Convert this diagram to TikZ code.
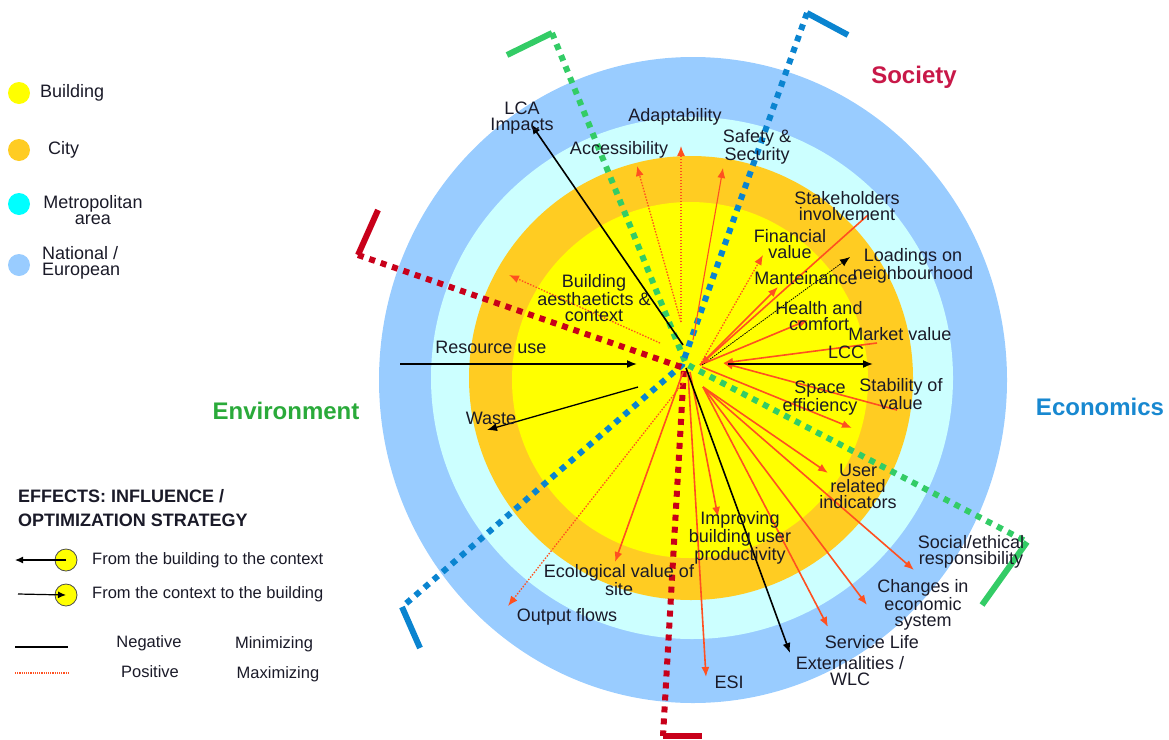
\documentclass[tikz,border=0pt]{standalone}
\usepackage{fontspec}
\setmainfont{Liberation Sans}
\usetikzlibrary{arrows.meta}
\definecolor{natc}{HTML}{99CCFF}
\definecolor{metc}{HTML}{CCFFFF}
\definecolor{cityc}{HTML}{FFCC22}
\definecolor{bldc}{HTML}{FFFF00}
\definecolor{metleg}{HTML}{00FFFF}
\definecolor{arrc}{HTML}{FF5020}
\definecolor{grc}{HTML}{33CC66}
\definecolor{blc}{HTML}{0A84D0}
\definecolor{rdc}{HTML}{C8001A}
\definecolor{socc}{HTML}{C81848}
\definecolor{envc}{HTML}{2AAA3A}
\definecolor{ecoc}{HTML}{1888D0}
\definecolor{txtc}{HTML}{1A1A28}
\begin{document}
\begin{tikzpicture}[x=1pt,y=-1pt,
  lbl/.style={font=\fontsize{18}{16}\selectfont, text=txtc, align=center, inner sep=0pt},
  sect/.style={font=\fontsize{24}{26}\selectfont\bfseries, inner sep=0pt},
  legt/.style={font=\fontsize{16.5}{18}\selectfont, text=txtc, inner sep=0pt},
  legc/.style={circle, inner sep=0pt, minimum size=22pt},
  sdash/.style={line width=6pt, dash pattern=on 6pt off 6pt},
  send/.style={line width=6pt},
  tip/.style={-{Latex[length=10pt,width=8pt]}},
  posarr/.style={draw=arrc, line width=1.6pt, tip},
  thinarr/.style={draw=arrc, line width=1.1pt, tip},
  dotarr/.style={draw=arrc, line width=1.3pt, dash pattern=on 1.5pt off 1.5pt, tip},
  negarr/.style={draw=black, line width=1.6pt, tip},
]
\useasboundingbox (0,0) rectangle (1169,739);
% rings
\fill[natc] (693,380) ellipse [x radius=314, y radius=323];
\fill[metc] (692,378) circle [radius=261];
\fill[cityc] (691,378) circle [radius=222];
\fill[bldc] (690,380) circle [radius=178];

% sector brackets
\coordinate (gA) at (507,55); \coordinate (gB) at (552,33); \coordinate (gV) at (686,364);
\coordinate (gC) at (1027,542); \coordinate (gD) at (982,605);
\coordinate (bA) at (848,35); \coordinate (bB) at (807,13); \coordinate (bV) at (682,365);
\coordinate (bC) at (402,607); \coordinate (bD) at (420,648);
\coordinate (rA) at (378,210); \coordinate (rB) at (358,255); \coordinate (rV) at (684,368);
\coordinate (rC) at (663,736); \coordinate (rD) at (702,736);
\draw[grc, send] (gA) -- (gB); \draw[grc, sdash] (gB) -- (gV) -- (gC); \draw[grc, send] (gC) -- (gD);
\draw[blc, send] (bA) -- (bB); \draw[blc, sdash] (bB) -- (bV) -- (bC); \draw[blc, send] (bC) -- (bD);
\draw[rdc, send] (rA) -- (rB); \draw[rdc, sdash] (rB) -- (rV) -- (rC); \draw[rdc, send] (rC) -- (rD);

% arrow end points
\coordinate (lcaS) at (683,345); \coordinate (lcaE) at (531,124);
\coordinate (accS) at (681,322); \coordinate (accE) at (637,166);
\coordinate (adaS) at (681,322); \coordinate (adaE) at (681,146);
\coordinate (safS) at (693,340); \coordinate (safE) at (723,168);
\coordinate (aesS) at (660,343); \coordinate (aesE) at (509,275);
\coordinate (resS) at (400,364); \coordinate (resE) at (637,364);
\coordinate (wasS) at (638,387); \coordinate (wasE) at (487,430);
\coordinate (outS) at (683,383); \coordinate (outE) at (508,606);
\coordinate (ecoS) at (683,372); \coordinate (ecoE) at (615,562);
\coordinate (esiS) at (688,372); \coordinate (esiE) at (706,677);
\coordinate (impS) at (690,372); \coordinate (impE) at (718,517);
\coordinate (extS) at (686,368); \coordinate (extE) at (790,653);
\coordinate (serS) at (703,387); \coordinate (serE) at (828,627);
\coordinate (chaS) at (703,387); \coordinate (chaE) at (867,605);
\coordinate (socS) at (703,387); \coordinate (socE) at (914,570);
\coordinate (useS) at (703,387); \coordinate (useE) at (828,473);
\coordinate (spaS) at (702,367); \coordinate (spaE) at (852,428);
\coordinate (stbS) at (897,410); \coordinate (stbE) at (723,363);
\coordinate (mktS) at (877,343); \coordinate (mktE) at (723,363);
\coordinate (lccS) at (728,364); \coordinate (lccE) at (873,364);
\coordinate (heaS) at (700,365); \coordinate (heaE) at (808,320);
\coordinate (loaS) at (702,365); \coordinate (loaE) at (850,257);
\coordinate (manS) at (700,365); \coordinate (manE) at (778,287);
\coordinate (finS) at (700,365); \coordinate (finE) at (763,255);
\coordinate (stkS) at (868,215); \coordinate (stkE) at (700,365);

% arrows
\draw[negarr] (lcaS) -- (lcaE);
\draw[dotarr] (accS) -- (accE);
\draw[dotarr] (adaS) -- (adaE);
\draw[thinarr] (safS) -- (safE);
\draw[dotarr] (aesS) -- (aesE);
\draw[negarr] (resS) -- (resE);
\draw[negarr, line width=1.3pt] (wasS) -- (wasE);
\draw[dotarr] (outS) -- (outE);
\draw[posarr] (ecoS) -- (ecoE);
\draw[posarr] (esiS) -- (esiE);
\draw[posarr] (impS) -- (impE);
\draw[negarr] (extS) -- (extE);
\draw[posarr] (serS) -- (serE);
\draw[posarr] (chaS) -- (chaE);
\draw[posarr] (socS) -- (socE);
\draw[posarr] (useS) -- (useE);
\draw[posarr] (spaS) -- (spaE);
\draw[posarr] (stbS) -- (stbE);
\draw[posarr] (mktS) -- (mktE);
\draw[negarr] (lccS) -- (lccE);
\draw[posarr] (heaS) -- (heaE);
\draw[draw=black, line width=0.8pt, dash pattern=on 1.5pt off 1pt, tip] (loaS) -- (loaE);
\draw[posarr] (manS) -- (manE);
\draw[dotarr] (finS) -- (finE);
\draw[posarr] (stkS) -- (stkE);

% labels
\node[lbl] (lca) at (522,118) {LCA\\Impacts};
\node[lbl] (adapt) at (675,117) {Adaptability};
\node[lbl] (access) at (619,150) {Accessibility};
\node[lbl] (safety) at (757,147) {Safety \&\\Security};
\node[lbl] (stake) at (847,206) {Stakeholders\\involvement};
\node[lbl] (fin) at (790,244) {Financial\\value};
\node[lbl] (load) at (913,266) {Loadings on\\neighbourhood};
\node[lbl] (maint) at (806,278) {Manteinance};
\node[lbl] (health) at (819,316) {Health and\\comfort};
\node[lbl] (market) at (900,334) {Market value};
\node[lbl] (lccl) at (846,352) {LCC};
\node[lbl] (space) at (820,398) {Space\\efficiency};
\node[lbl] (stab) at (901,394) {Stability of\\value};
\node[lbl] (user) at (858,486) {User\\related\\indicators};
\node[lbl] (social) at (971,552) {Social/ethical\\responsibility};
\node[lbl] (changes) at (923,605) {Changes in\\economic\\system};
\node[lbl] (service) at (872,642) {Service Life};
\node[lbl] (extern) at (850,671) {Externalities /\\WLC};
\node[lbl] (esi) at (729,682) {ESI};
\node[lbl] (improv) at (740,538) {Improving\\building user\\productivity};
\node[lbl] (ecol) at (619,580) {Ecological value of\\site};
\node[lbl] (output) at (567,617) {Output flows};
\node[lbl] (waste) at (491,418) {Waste};
\node[lbl] (resource) at (491,347) {Resource use};
\node[lbl] (aesth) at (594,298) {Building\\aesthaeticts \&\\context};

% sector titles
\node[sect, text=socc] (society) at (914,77) {Society};
\node[sect, text=envc] (environment) at (286,411) {Environment};
\node[sect, text=ecoc] (economics) at (1100,407) {Economics};

% scale legend
\node[legc, fill=bldc] (kb) at (19,93) {};
\node[legc, fill=cityc] (kc) at (19,150) {};
\node[legc, fill=metleg] (km) at (19,204) {};
\node[legc, fill=natc] (kn) at (19,265) {};
\node[lbl, anchor=west] (kbt) at (40,93) {Building};
\node[lbl, anchor=west] (kct) at (48,150) {City};
\node[lbl, font=\fontsize{18}{16.5}\selectfont] (kmt) at (93,210) {Metropolitan\\area};
\node[lbl, anchor=west, align=left, font=\fontsize{18}{16.5}\selectfont] (knt) at (42,263) {National /\\European};

% effects legend
\node[anchor=west, inner sep=0pt, text=txtc, align=left, font=\fontsize{18}{23.5}\selectfont\bfseries] (eff) at (18,508) {EFFECTS: INFLUENCE /\\OPTIMIZATION STRATEGY};
\node[legc, fill=bldc, draw=black!70, line width=0.8pt] (lc1) at (66,560) {};
\coordinate (l1tip) at (15,560);
\draw[line width=1.2pt, -{Latex[length=8pt,width=7pt]}] (lc1.center) -- (l1tip);
\node[legc, fill=bldc, draw=black!70, line width=0.8pt] (lc2) at (66,595) {};
\coordinate (l2s) at (18,594);
\draw[line width=1.2pt, -{Latex[length=8pt,width=7pt]}] (l2s) -- (lc2.center);
\node[legt, anchor=west] (f1) at (92,560) {From the building to the context};
\node[legt, anchor=west] (f2) at (92,594) {From the context to the building};
\coordinate (n1) at (15,647); \coordinate (n2) at (68,647);
\draw[line width=2.2pt] (n1) -- (n2);
\coordinate (p1) at (15,673); \coordinate (p2) at (68,673);
\draw[arrc, line width=1.1pt, dash pattern=on 1.2pt off 1pt] (p1) -- (p2);
\node[legt] (neg) at (149,643) {Negative};
\node[legt] (mini) at (274,644) {Minimizing};
\node[legt] (posi) at (150,672) {Positive};
\node[legt] (maxi) at (278,674) {Maximizing};
\end{tikzpicture}
\end{document}
